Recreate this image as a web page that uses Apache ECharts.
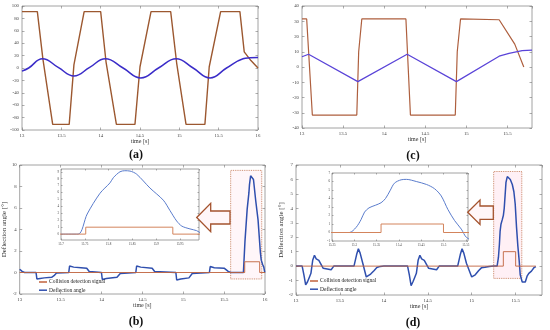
<!DOCTYPE html>
<html><head><meta charset="utf-8">
<script src="https://cdn.jsdelivr.net/npm/echarts@6/dist/echarts.min.js"></script>
<style>html,body{margin:0;padding:0;background:#fff}#c{width:550px;height:330px}</style>
</head><body><div id="c"></div>
<script>
// ---------- data ----------
// panel (a): [time s, value]
const aRed = [[13,91],[13.195,91],[13.265,15],[13.39,-91],[13.6,-91],[13.66,5],[13.79,91],[14.0,91],[14.068,10],[14.2,-91],[14.436,-91],[14.5,2],[14.64,91],[14.89,91],[14.966,8],[15.085,-91],[15.325,-91],[15.38,2],[15.525,91],[15.77,91],[15.825,26],[15.91,12],[16,0]];
const aBlue = [[13,-5],[13.085,0],[13.26,15],[13.46,1],[13.66,-13],[13.86,1],[14.06,15],[14.285,0],[14.51,-16],[14.735,0],[14.96,15],[15.175,0],[15.39,-16],[15.6,0],[15.81,15],[15.9,16.5],[16,17]];
// panel (c)
const cRed = [[13,31.5],[13.057,31.5],[13.126,-31.5],[13.667,-31.5],[13.69,10],[13.728,31.5],[14.265,31.5],[14.32,-31.5],[14.866,-31.5],[14.89,10],[14.93,31.5],[15.40,31],[15.59,15],[15.70,0]];
const cBlue = [[13,6.7],[13.08,8.4],[13.68,-9.6],[14.28,8.4],[14.88,-9.6],[15.40,7.1],[15.52,8.9],[15.68,10.7],[15.80,11.1]];
// panel (b)
const bCollision = [[13,0],[15.752,0],[15.752,1],[15.935,1],[15.935,0],[16,0]];
const bPeak = [[15.7,0],[15.736,0],[15.755,2.9],[15.782,5.9],[15.803,7.4],[15.81,8.15],[15.824,9.0],[15.834,9.15],[15.845,9.1],[15.859,8.65],[15.887,6.65],[15.915,4.9],[15.929,3.4],[15.943,1.9],[15.954,1.15],[15.971,0.75],[15.985,0.5]];
const bBefore = [[13.0,0.3],[13.03,0.1],[13.06,0],[13.2,0],[13.21,-0.6],[13.25,-0.55],[13.3,-0.5],[13.39,-0.45],[13.42,-0.3],[13.45,-0.05],[13.47,0],
 [13.6,0],[13.61,0.6],[13.66,0.5],[13.75,0.45],[13.82,0.4],[13.85,0.1],[13.87,0],
 [14.0,0],[14.01,-0.65],[14.06,-0.55],[14.19,-0.45],[14.23,-0.1],[14.25,0],
 [14.42,0],[14.43,0.6],[14.48,0.5],[14.62,0.4],[14.65,0.1],[14.67,0],
 [14.91,0],[14.92,-0.7],[14.97,-0.6],[15.07,-0.5],[15.11,-0.1],[15.13,0],
 [15.32,0],[15.33,0.55],[15.38,0.45],[15.5,0.4],[15.55,0.1],[15.58,0]];
const bAfter = [[15.995,0.1],[16,0]];
const bBox = [15.58, 15.96, -0.6, 9.5];
// panel (d)
const dCollision = [[13,0],[15.36,0],[15.36,1],[15.5,1],[15.5,0],[15.73,0]];
const dPeak = [[15.25,0],[15.289,0],[15.304,0.6],[15.315,1.5],[15.323,2.4],[15.333,2.9],[15.347,3.2],[15.36,3.5],[15.37,4.0],[15.38,4.9],[15.39,5.8],[15.405,6.2],[15.417,6.25],[15.439,6.0],[15.462,5.65],[15.48,5.15],[15.495,4.3],[15.51,2.7],[15.525,1.4],[15.54,0.4],[15.552,-0.6]];
const dBefore = [[13,0],[13.07,0],[13.09,-0.6],[13.11,-1.3],[13.13,-1.1],[13.15,-0.8],[13.17,-0.5],[13.19,0.4],[13.21,0.75],[13.23,0.5],[13.26,0.4],[13.28,0.35],[13.31,-0.15],[13.33,-0.25],[13.4,-0.25],[13.43,0],
 [13.66,0],[13.69,0.8],[13.71,1.2],[13.73,0.9],[13.76,0.2],[13.8,-0.75],[13.85,-0.55],[13.89,-0.3],[13.92,-0.1],[13.96,-0.02],[14.0,0],
 [14.27,0],[14.29,-0.6],[14.31,-1.35],[14.33,-1.1],[14.35,-0.8],[14.37,-0.5],[14.39,0.4],[14.41,0.75],[14.43,0.5],[14.46,0.4],[14.48,0.35],[14.51,-0.15],[14.53,-0.25],[14.6,-0.25],[14.63,0],
 [14.84,0],[14.87,0.8],[14.89,1.2],[14.91,0.9],[14.94,0.2],[15.0,-0.75],[15.04,-0.6],[15.08,-0.3],[15.11,-0.12],[15.15,-0.08],[15.2,-0.02]];
const dAfter = [[15.575,-1.1],[15.59,-1.2],[15.61,-1.1],[15.63,-0.7],[15.65,-0.5],[15.68,-0.35],[15.71,-0.1],[15.73,-0.03]];
const dBox = [15.25, 15.57, -0.85, 6.55];
const NAME_SIG = 'Collision detection signal', NAME_ANG = 'Deflection angle';

// ---------- build ----------
const FONT = 'Liberation Serif';
const grids = [], xAxes = [], yAxes = [], series = [];
function axisPair(list, gi, a, pos, isX) {
  const tick = {show:true, inside:true, length:a.tl||2.5, lineStyle:{color:'#777', width:0.6}};
  if (a.custom) tick.customValues = a.custom;
  const lab = {fontFamily:FONT, fontSize:a.fs, color:'#444', margin:a.m, showMaxLabel:a.showMax!==false};
  if (a.custom) lab.customValues = a.custom;
  const base = {type:'value', gridIndex:gi, min:a.min, max:a.max, splitLine:{show:false}, axisLine:{show:false, onZero:false}};
  if (!a.custom) base.interval = a.interval;
  const idx = list.length;
  list.push(Object.assign({}, base, {position:pos[0], axisTick:tick, axisLabel:lab,
    name:a.name||'', nameLocation:'middle', nameGap:a.ng||10, nameRotate:isX?0:90,
    nameTextStyle:{fontFamily:FONT, fontSize:a.nfs||6, color:'#333'}}));
  list.push(Object.assign({}, base, {position:pos[1], axisTick:tick, axisLabel:{show:false}}));
  return idx;
}
function panel(r, xa, ya, bg) {
  const gi = grids.length;
  grids.push({left:r[0], top:r[1], width:r[2], height:r[3], show:true, borderColor:'#8c8c8c', borderWidth:0.8, backgroundColor:bg||'transparent'});
  return {x:axisPair(xAxes, gi, xa, ['bottom','top'], true), y:axisPair(yAxes, gi, ya, ['left','right'], false)};
}
function line(p, data, color, w, extra) {
  series.push(Object.assign({type:'line', xAxisIndex:p.x, yAxisIndex:p.y, data:data, symbol:'none', showSymbol:false,
    lineStyle:{color:color, width:w}, itemStyle:{color:color}, animation:false, clip:true}, extra||{}));
}

const pa = panel([22,6,236,124], {min:13,max:16,interval:0.5,fs:4.8,m:3,name:'time [s]',ng:8},
                                 {min:-100,max:100,interval:20,fs:4.8,m:3});
line(pa, aRed, '#9c5830', 1.4);
line(pa, aBlue, '#3a2cc8', 1.5, {smooth:0.45});

const pc = panel([302,6,230,122], {min:13,max:15.8,interval:0.5,fs:4.8,m:3,showMax:false,name:'time [s]',ng:6},
                                  {min:-40,max:40,interval:10,fs:4.8,m:3});
line(pc, cRed, '#ae5f3e', 1.2);
line(pc, cBlue, '#5a44d8', 1.2);

const pb = panel([18,165,247,129], {min:13,max:16,interval:0.5,fs:4.8,m:3,name:'time [s]',ng:8},
                                   {min:-2,max:10,interval:2,fs:4.8,m:3,name:'Deflection angle [°]',ng:7,nfs:7});
line(pb, bBefore.concat(bPeak, bAfter), '#2f4fae', 1.5, {name:NAME_ANG, z:3});
line(pb, bCollision, '#c0623c', 0.9, {name:NAME_SIG, z:4,
  markArea:{silent:true, itemStyle:{color:'rgba(255,220,230,0.25)', borderColor:'#c47a58', borderType:'dotted', borderWidth:0.9},
    data:[[{xAxis:bBox[0], yAxis:bBox[2]},{xAxis:bBox[1], yAxis:bBox[3]}]]}});

const pd = panel([296,165,246,130], {min:13,max:15.8,interval:0.5,fs:4.8,m:3,showMax:false,name:'time [s]',ng:7},
                                    {min:-2,max:7,interval:1,fs:4.8,m:3,name:'Deflection angle [°]',ng:7,nfs:7});
line(pd, dBefore.concat(dPeak, dAfter), '#2f4fae', 1.5, {name:NAME_ANG, z:3});
line(pd, dCollision, '#c0623c', 0.9, {name:NAME_SIG, z:4,
  markArea:{silent:true, itemStyle:{color:'rgba(255,205,222,0.3)', borderColor:'#c47a58', borderType:'dotted', borderWidth:0.9},
    data:[[{xAxis:dBox[0], yAxis:dBox[2]},{xAxis:dBox[1], yAxis:dBox[3]}]]}});

// insets
const pbi = panel([61,169,138,71], {min:15.7,max:15.99,interval:0.05,fs:3.2,m:3,tl:1.5,showMax:false},
                                   {min:-0.85,max:9.4,custom:[0,1,2,3,4,5,6,7,8,9],fs:3.2,m:2,tl:1.5}, '#ffffff');
line(pbi, bPeak.concat(bAfter), '#5a7ccc', 1, {smooth:0.3});
line(pbi, bCollision, '#d3845c', 1);

const pdi = panel([332,173,136,68], {min:15.25,max:15.555,interval:0.05,fs:3.2,m:3,tl:1.5,showMax:false},
                                    {min:-1,max:7,interval:1,fs:3.2,m:2,tl:1.5}, '#ffffff');
line(pdi, dPeak.concat(dAfter), '#5a7ccc', 1, {smooth:0.3});
line(pdi, dCollision, '#d3845c', 1);

function arrow(tipX, tipY, headX, headTop, headBot, shaftTop, shaftBot, endX) {
  return {type:'polygon', silent:true, z:10,
    shape:{points:[[tipX,tipY],[headX,headTop],[headX,shaftTop],[endX,shaftTop],[endX,shaftBot],[headX,shaftBot],[headX,headBot]]},
    style:{fill:'#fff6f8', stroke:'#a4532e', lineWidth:1.3}};
}
function label(txt, x, y) {
  return {type:'text', silent:true, x:x, y:y, style:{text:txt, font:'bold 12px "Liberation Serif"', fill:'#111', align:'center', verticalAlign:'middle'}};
}
const legendCommon = {orient:'vertical', icon:'rect', itemWidth:8, itemHeight:1.5, itemGap:2.2, padding:0,
  textStyle:{fontFamily:FONT, fontSize:5.5, color:'#222', padding:[0,0,0,-3], lineHeight:6}, selectedMode:false,
  data:[NAME_SIG, NAME_ANG]};

const chart = echarts.init(document.getElementById('c'));
chart.setOption({
  animation:false,
  backgroundColor:'#ffffff',
  grid:grids, xAxis:xAxes, yAxis:yAxes, series:series,
  legend:[Object.assign({left:39, top:279}, legendCommon), Object.assign({left:310, top:278}, legendCommon)],
  graphic:[
    arrow(196.7,217.5,210.7,203.3,231.7,211,224,230),
    arrow(467.7,212.3,480,200,224.5,206,219.3,493.3),
    label('(a)',136,155), label('(c)',413,156), label('(b)',136,322), label('(d)',413,323)
  ]
});
</script></body></html>
